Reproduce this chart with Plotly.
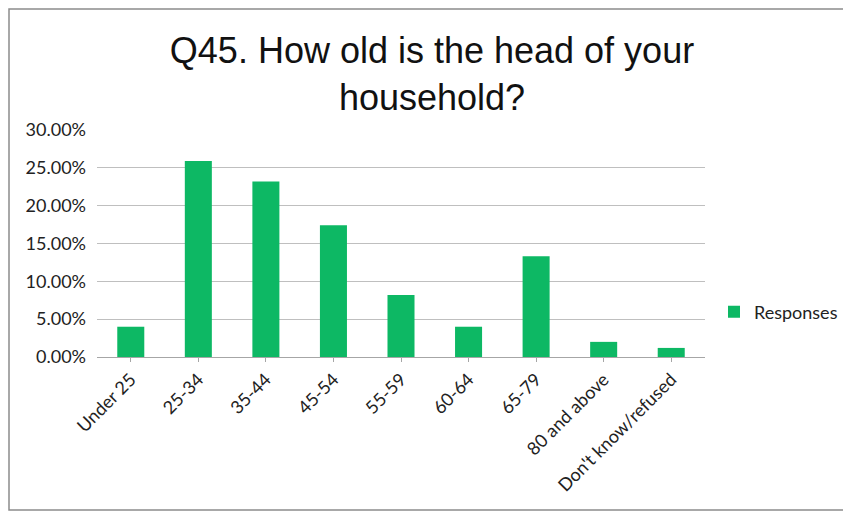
import plotly.graph_objects as go

categories = ["Under 25", "25-34", "35-44", "45-54", "55-59", "60-64", "65-79",
              "80 and above", "Don't know/refused"]
responses = [0.040, 0.259, 0.232, 0.174, 0.082, 0.040, 0.133, 0.020, 0.012]
y_ticks = [0, 0.05, 0.10, 0.15, 0.20, 0.25, 0.30]
y_tick_labels = ["0.00%", "5.00%", "10.00%", "15.00%", "20.00%", "25.00%", "30.00%"]

OFF = 8  # page body margin
W, H = 851 - OFF, 517 - OFF
L, R, T, B = 89, 146, 122, 160
pw, ph = W - L - R, H - T - B

def px_x(x):
    return (x - OFF - L) / pw

def px_y(y):
    return (H - B - (y - OFF)) / ph

FONT = "Lato, Open Sans, sans-serif"

fig = go.Figure()
fig.add_trace(go.Bar(
    x=categories, y=responses, name="Responses",
    marker=dict(color="#0DB864", line=dict(width=0)),
    width=0.4,
))

fig.update_layout(
    width=W, height=H,
    margin=dict(l=L, r=R, t=T, b=B, autoexpand=False),
    paper_bgcolor="white", plot_bgcolor="white",
    showlegend=True,
    title=dict(
        text="Q45. How old is the head of your<br>household?",
        x=px_x(432), xref="paper", xanchor="center",
        y=1 - (63 - OFF) / H, yref="container", yanchor="middle",
        font=dict(family="Liberation Sans, Arial", size=36, color="#111111"),
    ),
    legend=dict(
        x=px_x(714), xanchor="left", y=px_y(312), yanchor="middle",
        font=dict(family=FONT, size=18, color="#222222"),
        itemwidth=30, bgcolor="rgba(0,0,0,0)",
    ),
    xaxis=dict(
        type="category", tickangle=-45,
        tickfont=dict(family=FONT, size=18, color="#222222"),
        showline=True, linecolor="#A6A6A6", linewidth=1,
        ticks="outside", ticklen=4, tickcolor="#A6A6A6",
        showgrid=False,
    ),
    yaxis=dict(
        range=[0, 0.30], tickvals=y_ticks, ticktext=y_tick_labels,
        tickfont=dict(family=FONT, size=18, color="#222222"),
        showgrid=True, gridcolor="#BFBFBF", gridwidth=1,
        zeroline=False, showline=False, ticks="",
        ticklabelstandoff=10,
    ),
    bargap=0.6,
    shapes=[dict(
        type="rect", xref="paper", yref="paper",
        x0=px_x(9), x1=px_x(845), y0=px_y(510), y1=px_y(9),
        line=dict(color="#8C8C8C", width=1.5), fillcolor="rgba(0,0,0,0)",
        layer="below",
    )],
)

fig.write_html("out.html")
